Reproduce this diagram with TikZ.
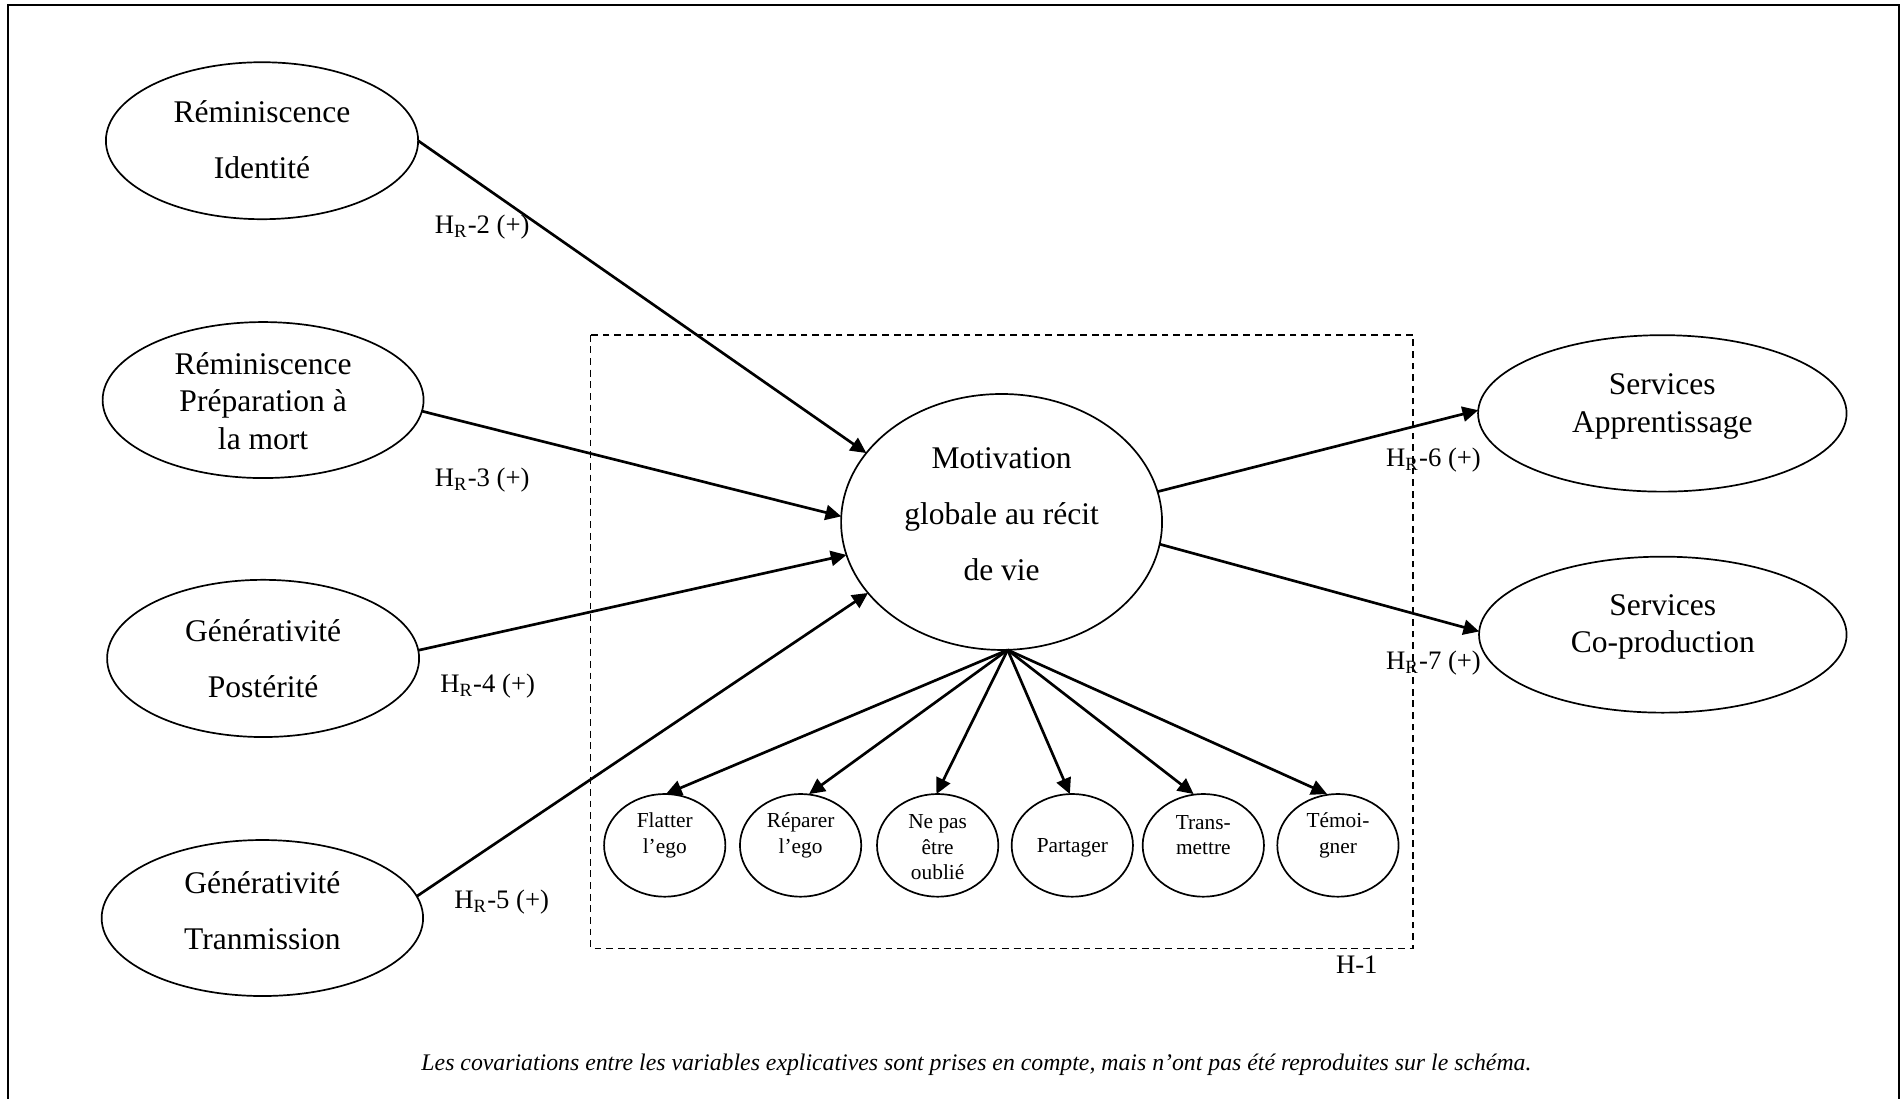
\documentclass[tikz,border=0pt]{standalone}
\usepackage{fontspec}
\setmainfont{Liberation Serif}
\usetikzlibrary{shapes.geometric,arrows.meta,calc}
\begin{document}
\begin{tikzpicture}[x=0.5pt,y=-0.5pt,
  ell/.style={draw,ellipse,line width=0.7pt,inner sep=0pt,outer sep=0pt},
  sell/.style={ell,minimum width=50pt,minimum height=42.3pt},
  txt/.style={align=center,inner sep=0pt},
  bigtxt/.style={txt,font=\fontsize{13}{23}\selectfont},
  bigtxtt/.style={txt,font=\fontsize{13}{15.4}\selectfont},
  smalltxt/.style={txt,font=\fontsize{8.8}{10.5}\selectfont},
  lab/.style={inner sep=0pt,font=\fontsize{11}{13}\selectfont},
  arr/.style={line width=1.1pt,-{Triangle[length=6.5pt,width=6.2pt]}},
  boxdash/.style={line width=0.6pt,dash pattern=on 2.8pt off 2pt},
]
\useasboundingbox (0,0) rectangle (1568,906);
% outer frame (bottom edge cropped)
\draw[line width=0.8pt] (6.3,906) -- (6.3,4.1) -- (1565.3,4.1) -- (1565.3,906);

% dashed box
\draw[boxdash] (487,276) rectangle (1165,781.7);
\node[lab] (h1) at (1118.5,795.6) {H-1};

% left ellipses
\node[ell,minimum width=128.7pt,minimum height=64.7pt] (A) at (216,116) {};
\node[bigtxt] at (216,115) {Réminiscence\\Identité};
\node[ell,minimum width=132.3pt,minimum height=64.3pt] (B) at (216.9,329.8) {};
\node[bigtxtt] at (216.9,330.5) {Réminiscence\\Préparation à\\la mort};
\node[ell,minimum width=128.6pt,minimum height=64.8pt] (C) at (216.9,542.8) {};
\node[bigtxt] at (216.9,543) {Générativité\\Postérité};
\node[ell,minimum width=132.5pt,minimum height=64.3pt] (D) at (216.3,756.8) {};
\node[bigtxt] at (216.3,750.5) {Générativité\\Tranmission};

% central ellipse
\node[ell,minimum width=132.3pt,minimum height=105.5pt] (M) at (825.7,430.3) {};
\node[bigtxt] at (825.7,423.7) {Motivation\\globale au récit\\de vie};

% right ellipses
\node[ell,minimum width=151.9pt,minimum height=64.5pt] (SA) at (1370.4,340.8) {};
\node[bigtxtt] at (1370.4,335) {Services\\Apprentissage};
\node[ell,minimum width=151.5pt,minimum height=64.3pt] (SC) at (1370.8,523.2) {};
\node[bigtxtt] at (1370.8,517) {Services\\Co-production};

% small ellipses
\node[sell] (s1) at (548,696.9) {};
\node[smalltxt] at (548,688.5) {Flatter\\l’ego};
\node[sell] (s2) at (660,696.9) {};
\node[smalltxt] at (660,688.5) {Réparer\\l’ego};
\node[sell] (s3) at (773,696.9) {};
\node[smalltxt] at (773,698.7) {Ne pas\\être\\oublié};
\node[sell] (s4) at (884,696.9) {};
\node[smalltxt] at (884,699) {Partager};
\node[sell] (s5) at (992,696.9) {};
\node[smalltxt] at (992,688.5) {Trans-\\mettre};
\node[sell] (s6) at (1103,696.9) {};
\node[smalltxt] at (1103,688.5) {Témoi-\\gner};

% arrows into M
\draw[arr] (A.east) -- (M.153);
\draw[arr] (B.-4) -- (M.178);
\draw[arr] (C.3) -- (M.192);
\draw[arr] (D.8) -- (M.208);
% arrows out of M
\draw[arr] (M.11) -- (SA.179);
\draw[arr] (M.-8) -- (SC.179);

% arrows to small ellipses
\coordinate (apex) at ($(M.south)+(5,0)$);
\draw[arr] (apex) -- ($(s1.north)+(1,0)$);
\draw[arr] (apex) -- ($(s2.north)+(7,0)$);
\draw[arr] (apex) -- ($(s3.north)+(-1,0)$);
\draw[arr] (apex) -- ($(s4.north)+(-2,0)$);
\draw[arr] (apex) -- ($(s5.north)+(-8,0)$);
\draw[arr] (apex) -- ($(s6.north)+(-9,0)$);

% labels
\node[lab] (l2) at (397.5,187) {H\textsubscript{R}-2 (+)};
\node[lab] (l3) at (397.5,395.7) {H\textsubscript{R}-3 (+)};
\node[lab] (l4) at (402,566) {H\textsubscript{R}-4 (+)};
\node[lab] (l5) at (413.6,744) {H\textsubscript{R}-5 (+)};
\node[lab] (l6) at (1181.8,379.2) {H\textsubscript{R}-6 (+)};
\node[lab] (l7) at (1181.8,546.8) {H\textsubscript{R}-7 (+)};

% caption
\node[inner sep=0pt,font=\fontsize{9.8}{11}\selectfont\itshape] (cap) at (805,878) {Les covariations entre les variables explicatives sont prises en compte, mais n’ont pas été reproduites sur le schéma.};
\end{tikzpicture}
\end{document}
